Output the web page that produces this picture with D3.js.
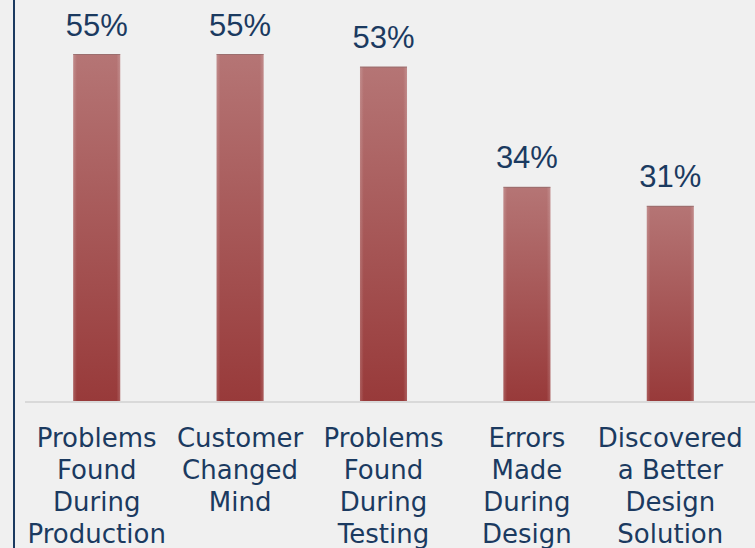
<!DOCTYPE html>
<html><head><meta charset="utf-8">
<script src="https://cdn.jsdelivr.net/npm/d3@7"></script>
<style>html,body{margin:0;padding:0;background:#f0f0f0;overflow:hidden}</style>
</head><body>
<svg id="chart" width="755" height="548"></svg>
<script>
const categories = [
  ["Problems","Found","During","Production"],
  ["Customer","Changed","Mind"],
  ["Problems","Found","During","Testing"],
  ["Errors","Made","During","Design"],
  ["Discovered","a Better","Design","Solution"]
];
const values = [0.55, 0.55, 0.53, 0.34, 0.31];
const valueLabels = ["55%", "55%", "53%", "34%", "31%"];

const svg = d3.select("#chart");
const W = 755, H = 548;
const navy = "#1b3a60";

const defs = svg.append("defs");
const grad = defs.append("linearGradient").attr("id","barGrad").attr("x1",0).attr("y1",0).attr("x2",0).attr("y2",1);
grad.append("stop").attr("offset","0%").attr("stop-color","#b57575");
grad.append("stop").attr("offset","100%").attr("stop-color","#983a3a");
const hgrad = defs.append("linearGradient").attr("id","edgeGrad").attr("x1",0).attr("y1",0).attr("x2",1).attr("y2",0);
hgrad.append("stop").attr("offset","0%").attr("stop-color","#ffffff").attr("stop-opacity",0.18);
hgrad.append("stop").attr("offset","8%").attr("stop-color","#ffffff").attr("stop-opacity",0);
hgrad.append("stop").attr("offset","92%").attr("stop-color","#ffffff").attr("stop-opacity",0);
hgrad.append("stop").attr("offset","100%").attr("stop-color","#ffffff").attr("stop-opacity",0.18);

const idx = d3.range(values.length);
const x = d3.scaleBand().domain(idx).range([25, 742]).paddingInner(0.672).paddingOuter(0.336);
const y = d3.scaleLinear().domain([0, 0.55]).range([402, 54]);

// left axis line
svg.append("line").attr("x1",14).attr("x2",14).attr("y1",0).attr("y2",H)
  .attr("stroke",navy).attr("stroke-width",2);

// baseline
svg.append("line").attr("x1",25).attr("x2",W).attr("y1",402).attr("y2",402)
  .attr("stroke","#d9d9d9").attr("stroke-width",2);

const g = svg.append("g");
g.selectAll("rect.bar").data(idx).join("rect").attr("class","bar")
  .attr("x", i => x(i)).attr("width", x.bandwidth())
  .attr("y", i => y(values[i])).attr("height", i => y(0) - y(values[i]) - 1)
  .attr("fill","url(#barGrad)");
g.selectAll("rect.edge").data(idx).join("rect").attr("class","edge")
  .attr("x", i => x(i)).attr("width", x.bandwidth())
  .attr("y", i => y(values[i])).attr("height", i => y(0) - y(values[i]) - 1)
  .attr("fill","url(#edgeGrad)");
g.selectAll("line.top").data(idx).join("line").attr("class","top")
  .attr("x1", i => x(i)).attr("x2", i => x(i) + x.bandwidth())
  .attr("y1", i => y(values[i]) + 0.5).attr("y2", i => y(values[i]) + 0.5)
  .attr("stroke","#8a6a6a").attr("stroke-width",1).attr("opacity",0.6);

// value labels
g.selectAll("text.val").data(idx).join("text").attr("class","val")
  .attr("x", i => x(i) + x.bandwidth()/2)
  .attr("y", i => y(values[i]) - 18.5)
  .attr("text-anchor","middle")
  .attr("font-family","'Liberation Sans', Arial, sans-serif")
  .attr("font-size", 31)
  .attr("fill", navy)
  .text(i => valueLabels[i]);

// category labels
const cat = g.selectAll("text.cat").data(idx).join("text").attr("class","cat")
  .attr("text-anchor","middle")
  .attr("font-family","'DejaVu Sans', Verdana, sans-serif")
  .attr("font-size", 26)
  .attr("fill", navy);
cat.each(function(i){
  const t = d3.select(this);
  categories[i].forEach((line, k) => {
    t.append("tspan").attr("x", x(i) + x.bandwidth()/2).attr("y", 447 + k*32).text(line);
  });
});
</script>
</body></html>
